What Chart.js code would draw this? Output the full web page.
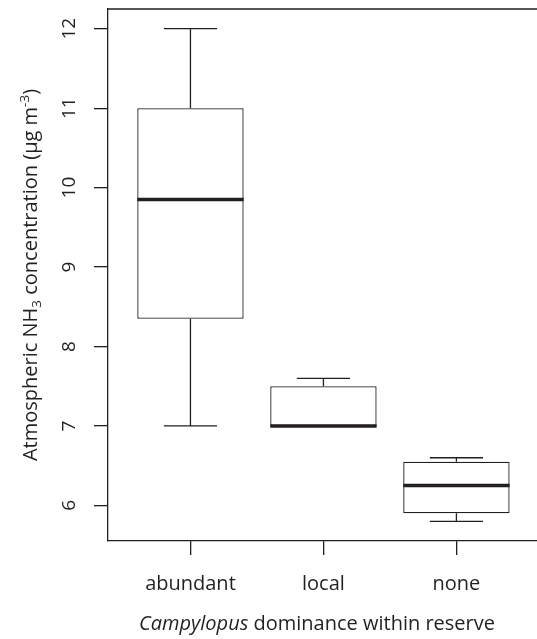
<!DOCTYPE html>
<html>
<head>
<meta charset="utf-8">
<script src="https://cdn.jsdelivr.net/npm/chart.js@4"></script>
<style>
  html, body { margin: 0; padding: 0; background: #fff; }
  #wrap { width: 537px; height: 639px; overflow: hidden; }
</style>
</head>
<body>
<div id="wrap"><canvas id="nh3Chart" width="537" height="639"></canvas></div>
<script>
// Ammonia concentration by Campylopus dominance (box summaries)
const groups = ['abundant', 'local', 'none'];
const lowWhisker = [7.0, 7.0, 5.8];
const lowerQuartile = [8.35, 7.0, 5.9];
const medians = [9.85, 7.0, 6.25];
const upperQuartile = [11.0, 7.5, 6.55];
const highWhisker = [12.0, 7.6, 6.6];
const yTicks = [6, 7, 8, 9, 10, 11, 12];
const xTicks = [1, 2, 3];

const ink = '#231f20';
const fontFamily = '"Open Sans", "Noto Sans", sans-serif';

// R-style 4% padding around the data range
const yLo = Math.min(...lowWhisker);
const yHi = Math.max(...highWhisker);
const yPad = (yHi - yLo) * 0.04;

const boxPlotLines = {
    id: 'boxPlotLines',
    afterDatasetsDraw(chart) {
        const { ctx, chartArea, scales: { x, y } } = chart;
        const bars = chart.getDatasetMeta(0).data;
        ctx.save();
        ctx.strokeStyle = ink;
        ctx.lineCap = 'butt';

        groups.forEach((g, i) => {
            const cx = x.getPixelForValue(i + 1);
            const half = bars[i].width / 2;
            const cap = half / 2;

            // whiskers and staples
            ctx.lineWidth = 1.3;
            ctx.beginPath();
            ctx.moveTo(cx, y.getPixelForValue(upperQuartile[i]));
            ctx.lineTo(cx, y.getPixelForValue(highWhisker[i]));
            ctx.moveTo(cx, y.getPixelForValue(lowerQuartile[i]));
            ctx.lineTo(cx, y.getPixelForValue(lowWhisker[i]));
            ctx.moveTo(cx - cap, y.getPixelForValue(highWhisker[i]));
            ctx.lineTo(cx + cap, y.getPixelForValue(highWhisker[i]));
            ctx.moveTo(cx - cap, y.getPixelForValue(lowWhisker[i]));
            ctx.lineTo(cx + cap, y.getPixelForValue(lowWhisker[i]));
            ctx.stroke();

            // median
            ctx.lineWidth = 3.6;
            ctx.beginPath();
            ctx.moveTo(cx - half, y.getPixelForValue(medians[i]));
            ctx.lineTo(cx + half, y.getPixelForValue(medians[i]));
            ctx.stroke();
        });

        // top edge of the frame
        ctx.lineWidth = 1.3;
        ctx.beginPath();
        ctx.moveTo(chartArea.left, chartArea.top);
        ctx.lineTo(chartArea.right, chartArea.top);
        ctx.stroke();
        ctx.restore();
    },
    afterDraw(chart) {
        const { ctx, chartArea, scales: { y } } = chart;
        ctx.save();
        ctx.fillStyle = ink;

        // y tick labels, parallel to the axis
        ctx.font = '19px ' + fontFamily;
        ctx.textAlign = 'center';
        ctx.textBaseline = 'alphabetic';
        yTicks.forEach(v => {
            ctx.save();
            ctx.translate(75, y.getPixelForValue(v));
            ctx.rotate(-Math.PI / 2);
            ctx.fillText(String(v), 0, 0);
            ctx.restore();
        });

        // y title with NH3 subscript and m-3 superscript
        const big = '20px ' + fontFamily;
        const small = '13.5px ' + fontFamily;
        const parts = [
            { t: 'Atmospheric NH', f: big, dy: 0 },
            { t: '3', f: small, dy: 4 },
            { t: ' concentration (\u00b5g m', f: big, dy: 0 },
            { t: '-3', f: small, dy: -8 },
            { t: ')', f: big, dy: 0 }
        ];
        let total = 0;
        parts.forEach(p => { ctx.font = p.f; p.w = ctx.measureText(p.t).width; total += p.w; });
        ctx.save();
        ctx.translate(37, (chartArea.top + chartArea.bottom) / 2);
        ctx.rotate(-Math.PI / 2);
        ctx.textAlign = 'left';
        let px = -total / 2;
        parts.forEach(p => {
            ctx.font = p.f;
            ctx.fillText(p.t, px, p.dy);
            px += p.w;
        });
        ctx.restore();

        // x title, genus in italics
        const xParts = [
            { t: 'Campylopus', f: 'italic 20px ' + fontFamily },
            { t: ' dominance within reserve', f: '20px ' + fontFamily }
        ];
        total = 0;
        xParts.forEach(p => { ctx.font = p.f; p.w = ctx.measureText(p.t).width; total += p.w; });
        ctx.textAlign = 'left';
        px = 317 - total / 2;
        xParts.forEach(p => {
            ctx.font = p.f;
            ctx.fillText(p.t, px, 630);
            px += p.w;
        });
        ctx.restore();
    }
};

const chart = new Chart(document.getElementById('nh3Chart'), {
    type: 'bar',
    data: {
        datasets: [{
            label: 'NH3',
            data: groups.map((g, i) => ({ x: i + 1, y: [lowerQuartile[i], upperQuartile[i]] })),
            backgroundColor: '#ffffff',
            borderColor: ink,
            borderWidth: 1.3,
            borderSkipped: false,
            barPercentage: 1,
            categoryPercentage: 0.8
        }]
    },
    options: {
        responsive: false,
        animation: false,
        events: [],
        layout: { padding: { top: 9, right: 0, left: 0, bottom: 0 } },
        plugins: {
            legend: { display: false },
            tooltip: { enabled: false }
        },
        scales: {
            x: {
                type: 'linear',
                min: 0.38,
                max: 3.606,
                offset: false,
                afterBuildTicks: scale => { scale.ticks = xTicks.map(v => ({ value: v })); },
                afterFit: scale => { scale.height = 98; },
                ticks: {
                    color: ink,
                    font: { family: fontFamily, size: 20 },
                    padding: 17,
                    maxRotation: 0,
                    callback: v => groups[v - 1]
                },
                grid: { display: true, offset: false, drawOnChartArea: false, drawTicks: true, tickLength: 14, color: ink, lineWidth: 1.3 },
                border: { display: true, color: ink, width: 1.3 }
            },
            y: {
                min: yLo - yPad,
                max: yHi + yPad,
                afterBuildTicks: scale => { scale.ticks = yTicks.map(v => ({ value: v })); },
                afterFit: scale => { scale.width = 108; },
                ticks: { display: false },
                grid: { display: true, drawOnChartArea: false, drawTicks: true, tickLength: 14, color: ink, lineWidth: 1.3 },
                border: { display: true, color: ink, width: 1.3 }
            }
        }
    },
    plugins: [boxPlotLines]
});
</script>
</body>
</html>
